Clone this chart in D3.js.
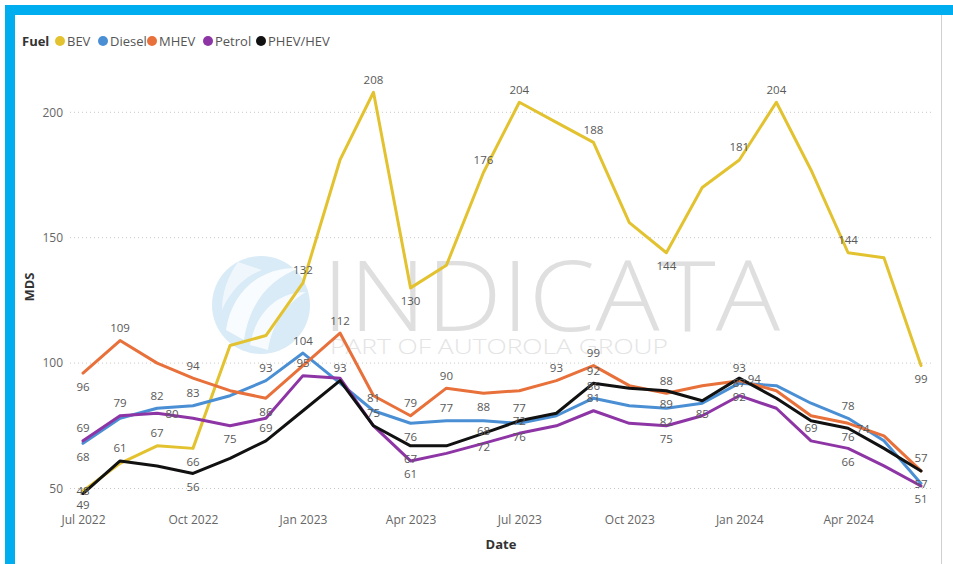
<!DOCTYPE html>
<html>
<head>
<meta charset="utf-8">
<script src="https://cdn.jsdelivr.net/npm/d3@7"></script>
<style>
  html, body { margin: 0; padding: 0; background: #ffffff; }
  svg { display: block; font-family: "Segoe UI", "Open Sans", "Noto Sans", sans-serif; }
</style>
</head>
<body>
<svg id="chart" width="953" height="564"></svg>
<script>
// Monthly MDS by fuel type, Jul 2022 – Jun 2024
const monthStart = new Date(2022, 6, 1);
const months = d3.range(24).map(i => d3.timeMonth.offset(monthStart, i));

const bev    = [49, 60, 67, 66, 107, 111, 132, 181, 208, 130, 139, 176, 204, 196, 188, 156, 144, 170, 181, 204, 177, 144, 142, 99];
const diesel = [68, 78, 82, 83, 87, 93, 104, 92, 81, 76, 77, 77, 76, 79, 86, 83, 82, 84, 92, 91, 84, 78, 69, 52];
const mhev   = [96, 109, 100, 94, 89, 86, 99, 112, 87, 79, 90, 88, 89, 93, 99, 91, 88, 91, 93, 89, 79, 76, 71, 57];
const petrol = [69, 79, 80, 78, 75, 78, 95, 94, 75, 61, 64, 68, 72, 75, 81, 76, 75, 79, 87, 82, 69, 66, 59, 51];
const phev   = [48, 61, 59, 56, 62, 69, 81, 93, 75, 67, 67, 72, 77, 80, 92, 90, 89, 85, 94, 86, 77, 74, 66, 57];

const seriesNames = ["BEV", "Diesel", "MHEV", "Petrol", "PHEV/HEV"];
const yTicks = [50, 100, 150, 200];

// Which points carry a value label, and on which side of the point it sits
const labelSpots = {
  "BEV":      [[0,"below"],[2,"above"],[3,"below"],[6,"above"],[8,"above"],[9,"below"],[11,"above"],[12,"above"],[14,"above"],[16,"below"],[18,"above"],[19,"above"],[21,"above"],[23,"below"]],
  "Diesel":   [[0,"below"],[2,"above"],[3,"above"],[5,"above"],[6,"above"],[8,"above"],[9,"below"],[10,"above"],[12,"below"],[14,"above"],[16,"below"],[18,"below"],[21,"above"]],
  "MHEV":     [[0,"below"],[1,"above"],[3,"above"],[5,"below"],[7,"above"],[9,"above"],[10,"above"],[11,"below"],[13,"above"],[14,"above"],[16,"above"],[18,"above"],[21,"below"],[23,"above"]],
  "Petrol":   [[0,"above"],[1,"above"],[2,"right"],[4,"below"],[6,"above"],[9,"below"],[11,"above"],[12,"above"],[14,"above"],[16,"below"],[18,"above"],[20,"above"],[21,"below"],[23,"below"]],
  "PHEV/HEV": [[0,"on"],[1,"above"],[3,"below"],[5,"above"],[7,"above"],[8,"above"],[9,"below"],[11,"below"],[12,"above"],[14,"above"],[16,"below"],[17,"below"],[18,"right"],[21,"right"],[23,"below"]]
};

const colors = {
  "BEV": "#E3C230",
  "Diesel": "#4A8FD4",
  "MHEV": "#E8703A",
  "Petrol": "#8E35A6",
  "PHEV/HEV": "#111111"
};

const seriesValues = [bev, diesel, mhev, petrol, phev];
const series = seriesNames.map((name, k) => ({
  name,
  points: months.map((d, i) => ({ date: d, value: seriesValues[k][i] }))
}));

const svg = d3.select("#chart");
const W = 953, H = 564;

// Frame: blue band on top and left, thin grey edge on the right
svg.append("rect").attr("x", 0).attr("y", 0).attr("width", W).attr("height", H).attr("fill", "#ffffff");
svg.append("rect").attr("x", 5).attr("y", 5).attr("width", W - 5).attr("height", 10).attr("fill", "#00AEEF");
svg.append("rect").attr("x", 5).attr("y", 5).attr("width", 10).attr("height", H - 5).attr("fill", "#00AEEF");
svg.append("line").attr("x1", 941.5).attr("x2", 941.5).attr("y1", 15).attr("y2", H)
  .attr("stroke", "#d0d0d0").attr("stroke-width", 1);

const x = d3.scaleTime()
  .domain([months[0], months[months.length - 1]])
  .range([83, 921]);
const y = d3.scaleLinear().domain([50, 200]).range([488.5, 112.3]);

// Gridlines
const grid = svg.append("g");
grid.selectAll("line").data(yTicks).join("line")
  .attr("x1", 70).attr("x2", 932)
  .attr("y1", d => y(d)).attr("y2", d => y(d))
  .attr("stroke", "#c8c8c8").attr("stroke-width", 1)
  .attr("stroke-dasharray", "1,3");

// Y axis labels
const yAxis = d3.axisLeft(y).tickValues(yTicks).tickSize(0).tickPadding(0);
const gy = svg.append("g").attr("transform", "translate(63,0)").call(yAxis);
gy.select(".domain").remove();
gy.selectAll("text").attr("fill", "#666666").attr("font-size", 12)
  .attr("font-family", "'Segoe UI','Open Sans',sans-serif");

// X axis labels
const xTickDates = months.filter((d, i) => i % 3 === 0);
const xAxis = d3.axisBottom(x).tickValues(xTickDates).tickFormat(d3.timeFormat("%b %Y")).tickSize(0).tickPadding(0);
const gx = svg.append("g").attr("transform", "translate(0,515)").call(xAxis);
gx.select(".domain").remove();
gx.selectAll("text").attr("fill", "#666666").attr("font-size", 12)
  .attr("font-family", "'Segoe UI','Open Sans',sans-serif");

// Axis titles
svg.append("text").attr("x", 501).attr("y", 549).attr("text-anchor", "middle")
  .attr("font-size", 13).attr("font-weight", "bold").attr("fill", "#333333").text("Date");
svg.append("text").attr("transform", "translate(34,287) rotate(-90)").attr("text-anchor", "middle")
  .attr("font-size", 13).attr("font-weight", "bold").attr("fill", "#333333").text("MDS");

// Watermark logo behind the lines
const wm = svg.append("g").attr("opacity", 0.9);
wm.append("circle").attr("cx", 261).attr("cy", 305).attr("r", 49).attr("fill", "#d4e9f7");
wm.append("path").attr("d", "M226,330 C232,290 262,266 300,268 C272,278 250,300 244,340 Z").attr("fill", "#ffffff").attr("opacity", 0.85);
wm.append("path").attr("d", "M250,345 C256,312 278,292 306,292 C286,304 272,324 268,350 Z").attr("fill", "#ffffff").attr("opacity", 0.8);
wm.append("path").attr("d", "M238,262 C228,276 222,292 222,310 C232,288 246,276 262,270 Z").attr("fill", "#ffffff").attr("opacity", 0.6);
wm.append("text").attr("x", 322).attr("y", 331)
  .attr("textLength", 458).attr("lengthAdjust", "spacingAndGlyphs")
  .attr("font-size", 98).attr("font-weight", 300).attr("fill", "#dcdcdc")
  .attr("font-family", "'Open Sans','Lato',sans-serif").text("INDICATA");
wm.append("text").attr("x", 330).attr("y", 354)
  .attr("textLength", 338).attr("lengthAdjust", "spacingAndGlyphs")
  .attr("font-size", 20).attr("font-weight", 300).attr("fill", "#e2e2e2")
  .attr("font-family", "'Open Sans','Lato',sans-serif").text("PART OF AUTOROLA GROUP");

// Lines
const line = d3.line().x(d => x(d.date)).y(d => y(d.value));
svg.append("g").selectAll("path").data(series).join("path")
  .attr("d", d => line(d.points))
  .attr("fill", "none")
  .attr("stroke", d => colors[d.name])
  .attr("stroke-width", 3)
  .attr("stroke-linejoin", "round")
  .attr("stroke-linecap", "round");

// Value labels
const offsets = {
  above: { dx: 0, dy: -13 },
  below: { dx: 0, dy: 13 },
  right: { dx: 15, dy: 0 },
  on:    { dx: 0, dy: -3 }
};
const labelData = [];
series.forEach(s => {
  labelSpots[s.name].forEach(([i, side]) => {
    labelData.push({ p: s.points[i], o: offsets[side] });
  });
});
svg.append("g").selectAll("text").data(labelData).join("text")
  .attr("x", d => x(d.p.date) + d.o.dx)
  .attr("y", d => y(d.p.value) + d.o.dy)
  .attr("text-anchor", "middle")
  .attr("dominant-baseline", "central")
  .attr("font-size", 11.5)
  .attr("fill", "#595959")
  .text(d => d.p.value);

// Legend
const legend = svg.append("g").attr("transform", "translate(22,41)");
legend.append("text").attr("x", 0).attr("y", 0).attr("dominant-baseline", "central")
  .attr("font-size", 13).attr("font-weight", "bold").attr("fill", "#333333").text("Fuel");
const legendX = [60, 103, 152, 208, 261].map(v => v - 22);
seriesNames.forEach((name, k) => {
  const g = legend.append("g").attr("transform", `translate(${legendX[k]},0)`);
  g.append("circle").attr("cx", 0).attr("cy", 0).attr("r", 5).attr("fill", colors[name]);
  g.append("text").attr("x", 7).attr("y", 0).attr("dominant-baseline", "central")
    .attr("font-size", 13).attr("fill", "#555555").text(name);
});
</script>
</body>
</html>
